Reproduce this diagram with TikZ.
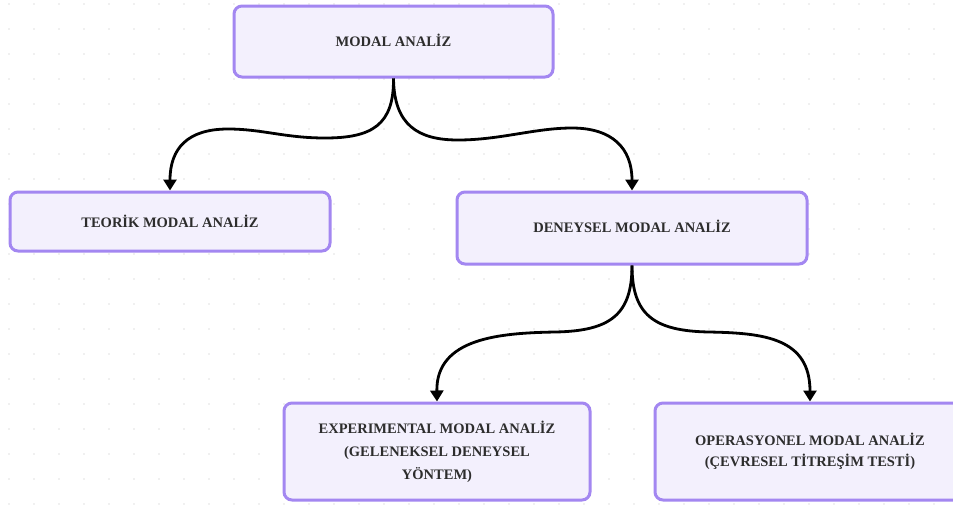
\documentclass[tikz,border=0pt]{standalone}
\usepackage{fontspec}
\setmainfont{Liberation Serif}
\usetikzlibrary{arrows.meta}
\definecolor{boxborder}{RGB}{163,135,241}
\definecolor{boxfill}{RGB}{243,240,253}
\definecolor{txt}{RGB}{45,45,45}
\definecolor{dotc}{RGB}{226,226,226}
\tikzset{
  box/.style={draw=boxborder, fill=boxfill, line width=3pt, rounded corners=8pt,
    text=txt, font=\bfseries\fontsize{14.5}{23}\selectfont, align=center, inner sep=0pt},
  arr/.style={draw=black, line width=2.8pt, -{Triangle[width=13pt,length=11pt]}},
}
\begin{document}
\begin{tikzpicture}[x=1pt,y=-1pt]
\useasboundingbox (0,0) rectangle (953,504);
\clip (0,0) rectangle (953,504);
\fill[white] (0,0) rectangle (953,504);
\foreach \i in {0,...,37} {
  \foreach \j in {0,...,20} {
    \fill[dotc] ({9+25*\i},{4+25*\j}) circle (0.9);
  }
}
\node[box, minimum width=319pt, minimum height=71pt] (m) at (393.5,41.5) {\raisebox{2pt}{MODAL ANALİZ}};
\node[box, minimum width=320pt, minimum height=59pt] (t) at (170,221.5) {TEORİK MODAL ANALİZ};
\node[box, minimum width=350pt, minimum height=72pt] (d) at (632,228) {\raisebox{4pt}{DENEYSEL MODAL ANALİZ}};
\node[box, minimum width=306pt, minimum height=97pt] (e) at (437,451.5) {EXPERIMENTAL MODAL ANALİZ\\(GELENEKSEL DENEYSEL\\YÖNTEM)};
\node[box, minimum width=310pt, minimum height=97pt] (o) at (810,451.5) {\raisebox{12pt}{\parbox{300pt}{\centering\baselineskip=21pt OPERASYONEL MODAL ANALİZ\\(ÇEVRESEL TİTREŞİM TESTİ)}}};

\draw[arr] (m.south) .. controls (394,125) and (372,138) .. (325,138)
  .. controls (285,138) and (262,129) .. (228,129)
  .. controls (188,129) and (170,148) .. (t.north);
\draw[arr] (m.south) .. controls (394,125) and (418,140) .. (458,140)
  .. controls (500,140) and (535,128) .. (572,128)
  .. controls (612,128) and (632,148) .. (d.north);
\draw[arr] (d.south) .. controls (632,315) and (610,331) .. (555,332)
  .. controls (500,333) and (436,338) .. (e.north);
\draw[arr] (d.south) .. controls (632,315) and (654,331) .. (709,332)
  .. controls (764,333) and (810,338) .. (o.north);
\end{tikzpicture}
\end{document}
